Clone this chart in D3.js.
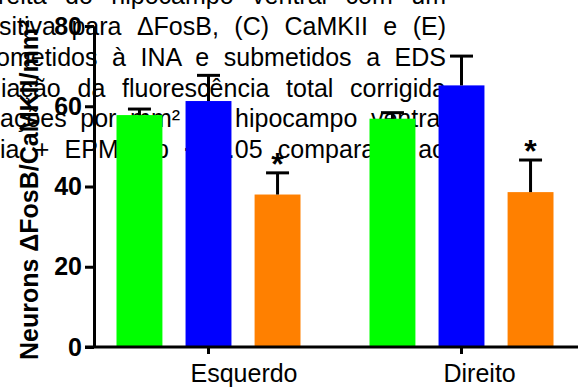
<!DOCTYPE html>
<html>
<head>
<meta charset="utf-8">
<script src="https://cdn.jsdelivr.net/npm/d3@7"></script>
<style>
  html, body { margin: 0; padding: 0; background: #fff; }
  svg { display: block; font-family: "Liberation Sans", Arial, sans-serif; }
</style>
</head>
<body>
<svg id="chart" width="586" height="388"></svg>
<script>
// data
const categories = ['Esquerdo', 'Direito'];
const seriesNames = ['Controle', 'INA', 'INA + EDS'];
const meanValues = [
  [57.8, 61.3, 38.0],
  [56.9, 65.2, 38.6]
];
const semValues = [
  [1.5, 6.4, 5.4],
  [1.5, 7.3, 8.0]
];
const significant = [
  [false, false, true],
  [false, false, true]
];
const yTicks = [0, 20, 40, 60, 80];
const yLabel = 'Neurons \u0394FosB/CaMKII/mm\u00b2';

// page text that sits behind the chart
const pageLines = [
  'reita do hipocampo ventral com um',
  'sitiva para \u0394FosB, (C) CaMKII e (E)',
  'ometidos \u00e0 INA e submetidos a EDS',
  'ia\u00e7\u00e3o da fluoresc\u00eancia total corrigida',
  'a\u00e7\u00f5es por mm\u00b2 no hipocampo ventral',
  'ia + EPM. #p < 0.05 comparado ao'
];
const pageLineStart = [-2, -1, -4, 1, 0, 0];

const colors = ['#00ff00', '#0000ff', '#ff8000'];

const svg = d3.select('#chart');

// background paragraph, justified to the right edge
const textRight = 446;
const bg = svg.append('g');
pageLines.forEach((line, i) => {
  const t = bg.append('text')
    .attr('x', pageLineStart[i])
    .attr('y', 3.8 + i * 30.9)
    .attr('font-size', 25)
    .attr('fill', '#000')
    .text(line);
  const len = t.node().getComputedTextLength();
  const spaces = line.split(' ').length - 1;
  const extra = (textRight - pageLineStart[i] - len) / spaces;
  t.attr('word-spacing', extra);
});

// scales
const x0 = d3.scaleBand()
  .domain(categories)
  .range([82, 588]);

const x1 = d3.scaleBand()
  .domain(seriesNames)
  .range([x0.bandwidth() / 2 - 92, x0.bandwidth() / 2 + 92])
  .paddingInner(0.335);

const y = d3.scaleLinear()
  .domain([0, 80])
  .range([347, 26]);

const chart = svg.append('g');

// bars
const groups = chart.selectAll('g.grp')
  .data(categories)
  .enter()
  .append('g')
  .attr('class', 'grp')
  .attr('transform', d => `translate(${x0(d)},0)`);

const cells = groups.selectAll('g.cell')
  .data((d, ci) => seriesNames.map((s, si) => ({
    series: s,
    si: si,
    mean: meanValues[ci][si],
    sem: semValues[ci][si],
    sig: significant[ci][si]
  })))
  .enter()
  .append('g')
  .attr('class', 'cell');

cells.append('rect')
  .attr('x', d => x1(d.series))
  .attr('y', d => y(d.mean))
  .attr('width', x1.bandwidth())
  .attr('height', d => y(0) - y(d.mean))
  .attr('fill', d => colors[d.si]);

// error bars (upper only)
const cx = d => x1(d.series) + x1.bandwidth() / 2;
cells.append('line')
  .attr('x1', cx)
  .attr('x2', cx)
  .attr('y1', d => y(d.mean))
  .attr('y2', d => y(d.mean + d.sem))
  .attr('stroke', '#000')
  .attr('stroke-width', 3);

cells.append('line')
  .attr('x1', d => cx(d) - 11.5)
  .attr('x2', d => cx(d) + 11.5)
  .attr('y1', d => y(d.mean + d.sem))
  .attr('y2', d => y(d.mean + d.sem))
  .attr('stroke', '#000')
  .attr('stroke-width', 3);

cells.filter(d => d.sig)
  .append('text')
  .attr('x', cx)
  .attr('y', d => y(d.mean + d.sem) + 2)
  .attr('text-anchor', 'middle')
  .attr('font-size', 32)
  .attr('font-weight', 'bold')
  .text('*');

// y axis
const yAxis = chart.append('g')
  .attr('transform', 'translate(94,0)')
  .call(d3.axisLeft(y).tickValues(yTicks).tickSize(9).tickSizeOuter(0).tickPadding(3));
yAxis.select('.domain').attr('stroke-width', 3);
yAxis.selectAll('.tick line').attr('stroke-width', 3);
yAxis.selectAll('.tick text')
  .attr('font-size', 25)
  .attr('font-weight', 'bold')
  .attr('font-family', '"Liberation Sans", Arial, sans-serif')
  .attr('fill', '#000');

// x axis
const xAxis = chart.append('g')
  .attr('transform', `translate(0,${y(0)})`)
  .call(d3.axisBottom(x0).tickSize(7).tickSizeOuter(0));
xAxis.select('.domain').remove();
xAxis.selectAll('.tick line').attr('stroke-width', 3);
xAxis.selectAll('.tick text')
  .attr('font-size', 25)
  .attr('font-family', '"Liberation Sans", Arial, sans-serif')
  .attr('fill', '#000')
  .attr('text-anchor', 'start')
  .attr('x', -18)
  .attr('y', 35)
  .attr('dy', 0);

chart.append('line')
  .attr('x1', 85)
  .attr('x2', 578)
  .attr('y1', y(0))
  .attr('y2', y(0))
  .attr('stroke', '#000')
  .attr('stroke-width', 3);

// y label
chart.append('text')
  .attr('transform', 'rotate(-90)')
  .attr('x', -360)
  .attr('y', 37.5)
  .attr('font-size', 25)
  .attr('font-weight', 'bold')
  .attr('fill', '#000')
  .text(yLabel);
</script>
</body>
</html>
